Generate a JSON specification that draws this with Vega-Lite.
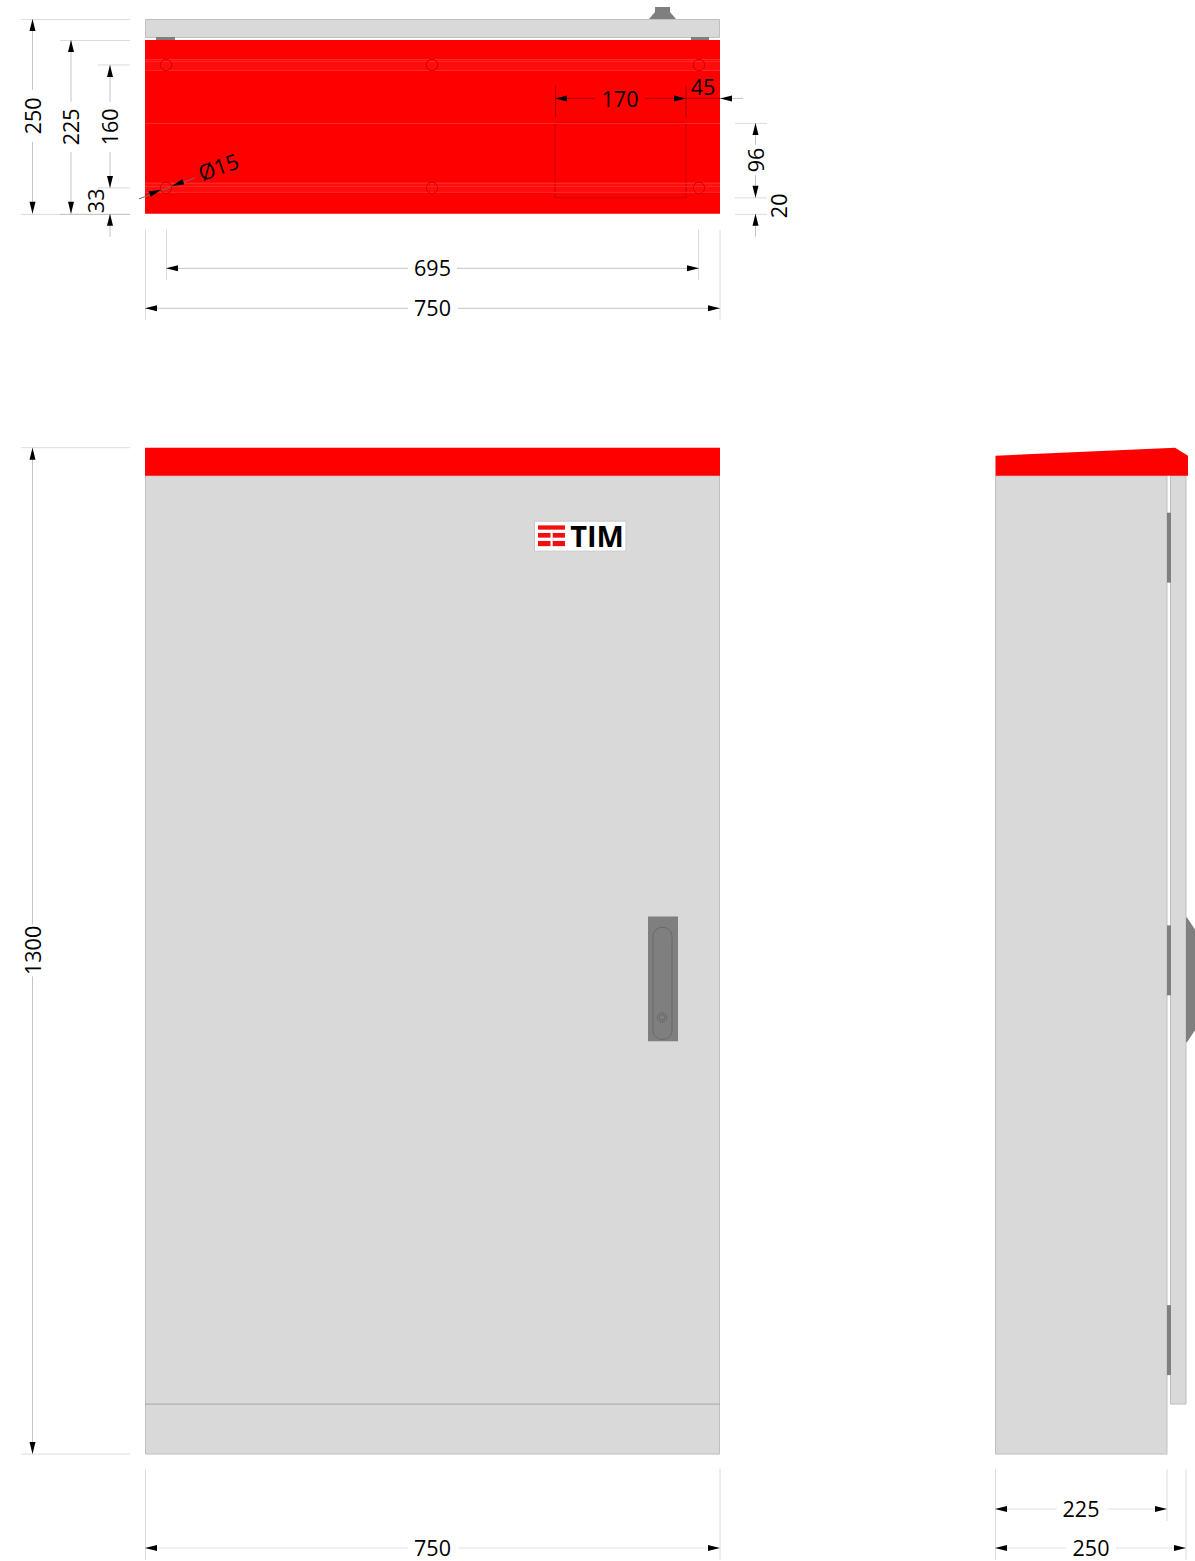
{
"$schema":"https://vega.github.io/schema/vega-lite/v6.json",
"width":1195,"height":1561,"padding":0,
"autosize":{"type":"fit","contains":"padding"},
"background":"white",
"view":{"stroke":null},
"config":{"style":{"cell":{"stroke":null}}},
"datasets":{
"panels":[
{"part":"grey","x":145.5,"x2":719.5,"y":19.5,"y2":37.5},
{"part":"metal","x":156,"x2":175,"y":37,"y2":40},
{"part":"metal","x":691,"x2":709,"y":37,"y2":40},
{"part":"metal","x":655,"x2":670,"y":7,"y2":12},
{"part":"red","x":145,"x2":720,"y":40,"y2":214},
{"part":"redband","x":145,"x2":720,"y":59,"y2":71},
{"part":"redband","x":145,"x2":720,"y":182,"y2":193},
{"part":"grey","x":145.5,"x2":719.5,"y":476,"y2":1455},
{"part":"red","x":145,"x2":720,"y":448,"y2":476},
{"part":"white","x":534.5,"x2":626,"y":521.5,"y2":551.5},
{"part":"logoRed","x":538,"x2":565,"y":525.7,"y2":530},
{"part":"logoRed","x":538,"x2":550.5,"y":533.3,"y2":538},
{"part":"logoRed","x":552.7,"x2":565,"y":533.3,"y2":538},
{"part":"logoRed","x":538,"x2":550.5,"y":541.3,"y2":546.5},
{"part":"logoRed","x":552.7,"x2":565,"y":541.3,"y2":546.5},
{"part":"metal","x":648,"x2":678,"y":917,"y2":1042},
{"part":"grey","x":995.5,"x2":1167,"y":476,"y2":1455},
{"part":"grey","x":1170.5,"x2":1186,"y":476,"y2":1405},
{"part":"metal","x":1167,"x2":1171,"y":513,"y2":583},
{"part":"metal","x":1167,"x2":1171,"y":926,"y2":996},
{"part":"metal","x":1167,"x2":1171,"y":1306,"y2":1376}
],
"knob":[
{"x":649,"y":19,"y2":19},
{"x":655,"y":12,"y2":19},
{"x":670,"y":12,"y2":19},
{"x":676,"y":19,"y2":19}
],
"roof":[
{"x":995.5,"y":456,"y2":476},
{"x":1175,"y":448,"y2":476},
{"x":1188,"y":456,"y2":476}
],
"sideHandle":[
{"y":918,"x":1186,"x2":1187},
{"y":930,"x":1186,"x2":1195},
{"y":1031,"x":1186,"x2":1195},
{"y":1043,"x":1186,"x2":1187}
],
"outlines":[
{"x":555,"x2":686,"y":123,"y2":198}
],
"slot":[
{"x":653,"x2":672,"y":928,"y2":1040}
],
"holes":[
{"x":166,"y":65},{"x":432,"y":65},{"x":699,"y":65},
{"x":166,"y":188},{"x":432,"y":188},{"x":699,"y":188}
],
"knobRings":[{"x":662,"y":1018}],
"lines":[
{"part":"band","x":145,"x2":720,"y":59.5,"y2":59.5},
{"part":"band","x":145,"x2":720,"y":61.5,"y2":61.5},
{"part":"band","x":145,"x2":720,"y":70.5,"y2":70.5},
{"part":"band","x":145,"x2":720,"y":123.5,"y2":123.5},
{"part":"band","x":145,"x2":720,"y":183.5,"y2":183.5},
{"part":"band","x":145,"x2":720,"y":186.5,"y2":186.5},
{"part":"band","x":145,"x2":720,"y":192.5,"y2":192.5},
{"part":"body","x":145,"x2":720,"y":1405,"y2":1405},

{"part":"ext","x":21,"x2":130,"y":19.5,"y2":19.5},
{"part":"ext","x":60,"x2":130,"y":40.5,"y2":40.5},
{"part":"ext","x":98,"x2":130,"y":65,"y2":65},
{"part":"ext","x":98,"x2":130,"y":188,"y2":188},
{"part":"ext","x":21,"x2":130,"y":214.5,"y2":214.5},
{"part":"dim","x":60,"x2":130,"y":214.5,"y2":214.5},
{"part":"dim","x":32.5,"x2":32.5,"y":19,"y2":90},
{"part":"dim","x":32.5,"x2":32.5,"y":142,"y2":214},
{"part":"dim","x":71,"x2":71,"y":40,"y2":102},
{"part":"dim","x":71,"x2":71,"y":152,"y2":214},
{"part":"dim","x":110,"x2":110,"y":65,"y2":102},
{"part":"dim","x":110,"x2":110,"y":152,"y2":188},
{"part":"dim","x":110,"x2":110,"y":214,"y2":237},
{"part":"dark","x":139,"x2":195,"y":199,"y2":178},

{"part":"ext","x":145.5,"x2":145.5,"y":230,"y2":320},
{"part":"ext","x":720,"x2":720,"y":230,"y2":320},
{"part":"ext","x":166.5,"x2":166.5,"y":230,"y2":280},
{"part":"ext","x":698.5,"x2":698.5,"y":230,"y2":280},
{"part":"dim","x":166,"x2":408,"y":268.5,"y2":268.5},
{"part":"dim","x":457,"x2":699,"y":268.5,"y2":268.5},
{"part":"dim","x":145,"x2":408,"y":308.5,"y2":308.5},
{"part":"dim","x":458,"x2":720,"y":308.5,"y2":308.5},

{"part":"redline","x":555.5,"x2":555.5,"y":86,"y2":118},
{"part":"redline","x":686,"x2":686,"y":86,"y2":118},
{"part":"redline","x":555,"x2":595,"y":98.5,"y2":98.5},
{"part":"redline","x":645,"x2":686,"y":98.5,"y2":98.5},
{"part":"redline","x":686,"x2":720,"y":98.5,"y2":98.5},
{"part":"dim","x":720,"x2":743,"y":98.5,"y2":98.5},
{"part":"ext","x":735,"x2":767,"y":123.5,"y2":123.5},
{"part":"ext","x":735,"x2":767,"y":198,"y2":198},
{"part":"ext","x":735,"x2":767,"y":214.5,"y2":214.5},
{"part":"dim","x":755.5,"x2":755.5,"y":123,"y2":145},
{"part":"dim","x":755.5,"x2":755.5,"y":175,"y2":198},
{"part":"dim","x":755.5,"x2":755.5,"y":214,"y2":237},

{"part":"ext","x":21,"x2":130,"y":448,"y2":448},
{"part":"ext","x":21,"x2":130,"y":1455,"y2":1455},
{"part":"dim","x":32.5,"x2":32.5,"y":448,"y2":925},
{"part":"dim","x":32.5,"x2":32.5,"y":977,"y2":1455},
{"part":"ext","x":145.5,"x2":145.5,"y":1470,"y2":1561},
{"part":"ext","x":720,"x2":720,"y":1470,"y2":1561},
{"part":"ext2","x":145,"x2":408,"y":1549,"y2":1549},
{"part":"ext2","x":458,"x2":720,"y":1549,"y2":1549},

{"part":"ext","x":995.5,"x2":995.5,"y":1470,"y2":1561},
{"part":"ext","x":1167,"x2":1167,"y":1470,"y2":1522},
{"part":"ext","x":1186,"x2":1186,"y":1470,"y2":1561},
{"part":"ext2","x":995,"x2":1057,"y":1510,"y2":1510},
{"part":"ext2","x":1107,"x2":1167,"y":1510,"y2":1510},
{"part":"ext2","x":995,"x2":1066,"y":1549,"y2":1549},
{"part":"ext2","x":1116,"x2":1186,"y":1549,"y2":1549}
],
"arrows":[
{"dir":"up","x":32.5,"y":19},{"dir":"down","x":32.5,"y":214},
{"dir":"up","x":71,"y":40},{"dir":"down","x":71,"y":214},
{"dir":"up","x":110,"y":65},{"dir":"down","x":110,"y":188},{"dir":"up","x":110,"y":214},
{"dir":"left","x":166,"y":268.5},{"dir":"right","x":699,"y":268.5},
{"dir":"left","x":145,"y":308.5},{"dir":"right","x":720,"y":308.5},
{"dir":"left","x":555,"y":98.5},{"dir":"right","x":686,"y":98.5},{"dir":"left","x":720,"y":98.5},
{"dir":"up","x":755.5,"y":123},{"dir":"down","x":755.5,"y":198},{"dir":"up","x":755.5,"y":214},
{"dir":"upright","x":161,"y":190},{"dir":"downleft","x":172,"y":186},
{"dir":"up","x":32.5,"y":448},{"dir":"down","x":32.5,"y":1455},
{"dir":"left","x":145,"y":1549},{"dir":"right","x":720,"y":1549},
{"dir":"left","x":995,"y":1510},{"dir":"right","x":1167,"y":1510},
{"dir":"left","x":995,"y":1549},{"dir":"right","x":1186,"y":1549}
],
"labelsFlat":[
{"label":"695","x":432.5,"y":270},{"label":"750","x":432.5,"y":310},
{"label":"170","x":620,"y":101},{"label":"45","x":703,"y":89},
{"label":"750","x":432.5,"y":1551},{"label":"225","x":1081,"y":1512},{"label":"250","x":1091,"y":1551}
],
"labelsUp":[
{"label":"250","x":35,"y":116},{"label":"225","x":73,"y":127},{"label":"160","x":112,"y":127},
{"label":"33","x":98,"y":201},{"label":"96","x":758,"y":160},{"label":"20","x":781,"y":206},
{"label":"1300","x":35,"y":951}
],
"labelsSlant":[{"label":"Ø15","x":219,"y":169}],
"logoText":[{"label":"TIM","x":597,"y":538}]
},
"encoding":{
"x":{"field":"x","type":"quantitative","scale":{"domain":[0,1195],"nice":false,"zero":false},"axis":null},
"y":{"field":"y","type":"quantitative","scale":{"domain":[1559,0],"nice":false,"zero":false},"axis":null}
},
"layer":[
{"data":{"name":"panels"},"mark":{"type":"rect","strokeWidth":1},
"encoding":{"x2":{"field":"x2"},"y2":{"field":"y2"},
"fill":{"field":"part","type":"nominal","legend":null,"scale":{"domain":["grey","red","redband","metal","white","logoRed"],"range":["#d9d9d9","#ff0000","#ff0c0c","#7f7f7f","#ffffff","#f01010"]}},
"stroke":{"field":"part","type":"nominal","legend":null,"scale":{"domain":["grey","red","redband","metal","white","logoRed","band","body","ext","ext2","dim","dark","redline"],"range":["#bfbfbf","transparent","transparent","transparent","#c8c8c8","transparent","#ff2a2a","#a6a6a6","#dcdcdc","#e2e2e2","#c4c4c4","#8a6060","#a80000"]}}}},
{"data":{"name":"knob"},"mark":{"type":"area","color":"#7f7f7f"},"encoding":{"y2":{"field":"y2"}}},
{"data":{"name":"roof"},"mark":{"type":"area","color":"#ff0000"},"encoding":{"y2":{"field":"y2"}}},
{"data":{"name":"sideHandle"},"mark":{"type":"area","color":"#7f7f7f","orient":"horizontal"},"encoding":{"x2":{"field":"x2"}}},
{"data":{"name":"slot"},"mark":{"type":"rect","fillOpacity":0,"stroke":"#696969","strokeWidth":1,"cornerRadius":9},"encoding":{"x2":{"field":"x2"},"y2":{"field":"y2"}}},
{"data":{"name":"outlines"},"mark":{"type":"rect","fillOpacity":0,"stroke":"#c80000","strokeWidth":1},"encoding":{"x2":{"field":"x2"},"y2":{"field":"y2"}}},
{"data":{"name":"knobRings"},"mark":{"type":"point","shape":"circle","filled":false,"strokeWidth":1,"opacity":1,"stroke":"#696969","size":90}},
{"data":{"name":"knobRings"},"mark":{"type":"point","shape":"circle","filled":false,"strokeWidth":1,"opacity":1,"stroke":"#696969","size":30}},
{"data":{"name":"lines"},"mark":{"type":"rule","strokeWidth":1},
"encoding":{"x2":{"field":"x2"},"y2":{"field":"y2"},
"stroke":{"field":"part","type":"nominal","legend":null,"scale":{"domain":["grey","red","redband","metal","white","logoRed","band","body","ext","ext2","dim","dark","redline"],"range":["#bfbfbf","transparent","transparent","transparent","#c8c8c8","transparent","#ff2a2a","#a6a6a6","#dcdcdc","#e2e2e2","#c4c4c4","#8a6060","#a80000"]}}}},
{"data":{"name":"holes"},"mark":{"type":"point","shape":"circle","filled":false,"strokeWidth":1,"opacity":1,"stroke":"#d00000","size":130}},
{"data":{"name":"arrows"},"mark":{"type":"point","filled":true,"color":"#000000","opacity":1,"size":144,"shape":"M0 0L0.5 2L-0.5 2Z"},
"encoding":{"angle":{"field":"dir","type":"nominal","legend":null,"scale":{"type":"ordinal","domain":["up","right","down","left","upright","downleft"],"range":[0,90,180,270,70,250]}}}},
{"data":{"name":"labelsFlat"},"mark":{"type":"text","font":"Open Sans","fontSize":21.5,"color":"#000000","align":"center","baseline":"middle"},"encoding":{"text":{"field":"label"}}},
{"data":{"name":"labelsUp"},"mark":{"type":"text","font":"Open Sans","fontSize":21.5,"color":"#000000","align":"center","baseline":"middle","angle":270},"encoding":{"text":{"field":"label"}}},
{"data":{"name":"labelsSlant"},"mark":{"type":"text","font":"Open Sans","fontSize":21.5,"color":"#000000","align":"center","baseline":"middle","angle":340},"encoding":{"text":{"field":"label"}}},
{"data":{"name":"logoText"},"mark":{"type":"text","font":"Open Sans","fontWeight":"bold","fontSize":29,"color":"#000000","align":"center","baseline":"middle"},"encoding":{"text":{"field":"label"}}}
]
}
